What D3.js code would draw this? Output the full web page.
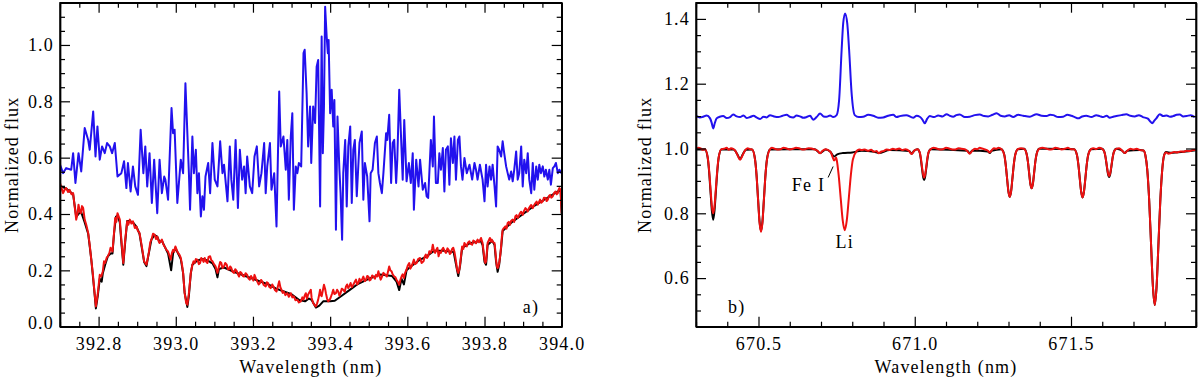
<!DOCTYPE html>
<html><head><meta charset="utf-8">
<script src="https://cdn.jsdelivr.net/npm/d3@7"></script>
<style>
html,body{margin:0;padding:0;background:#fff;}
svg{display:block;}
text{font-family:"Liberation Serif","Times New Roman",serif;fill:#000;}
</style></head>
<body><svg id="chart" width="1200" height="379"></svg>
<script>
// ---------------- DATA ----------------
// Panel a) Ca II K region: wavelength (nm), normalized flux
const blueA = [
[392.700,0.575],[392.708,0.545],[392.716,0.563],[392.729,0.557],[392.734,0.616],[392.740,0.510],[392.748,0.616],[392.755,0.551],
[392.764,0.705],[392.773,0.663],[392.777,0.628],[392.786,0.764],[392.792,0.604],[392.797,0.711],[392.803,0.593],[392.809,0.640],
[392.816,0.616],[392.822,0.652],[392.829,0.640],[392.835,0.616],[392.842,0.652],[392.849,0.533],[392.859,0.545],[392.866,0.587],
[392.872,0.492],[392.876,0.581],[392.883,0.480],[392.889,0.569],[392.895,0.498],[392.902,0.468],[392.909,0.699],[392.916,0.545],
[392.921,0.640],[392.926,0.498],[392.932,0.616],[392.938,0.439],[392.944,0.593],[392.952,0.403],[392.958,0.593],[392.964,0.474],
[392.970,0.533],[392.973,0.522],[392.980,0.451],[392.989,0.776],[392.993,0.687],[392.997,0.699],[393.004,0.439],[393.013,0.593],
[393.019,0.545],[393.025,0.864],[393.034,0.545],[393.037,0.415],[393.043,0.675],[393.047,0.545],[393.052,0.628],[393.056,0.474],
[393.060,0.545],[393.065,0.391],[393.069,0.463],[393.073,0.415],[393.077,0.533],[393.084,0.581],[393.089,0.474],[393.095,0.652],
[393.101,0.522],[393.108,0.498],[393.115,0.658],[393.121,0.545],[393.125,0.575],[393.134,0.445],[393.140,0.640],[393.144,0.522],
[393.149,0.451],[393.155,0.663],[393.161,0.421],[393.166,0.628],[393.172,0.522],[393.177,0.569],[393.181,0.474],[393.185,0.604],
[393.192,0.498],[393.198,0.474],[393.204,0.604],[393.210,0.640],[393.216,0.498],[393.222,0.545],[393.229,0.652],[393.233,0.474],
[393.237,0.569],[393.244,0.652],[393.248,0.486],[393.255,0.545],[393.261,0.356],[393.268,0.835],[393.272,0.640],[393.279,0.675],
[393.285,0.557],[393.289,0.663],[393.293,0.451],[393.298,0.675],[393.302,0.758],[393.306,0.415],[393.311,0.569],[393.315,0.545],
[393.319,0.581],[393.325,0.569],[393.331,0.971],[393.334,0.983],[393.339,0.829],[393.343,0.640],[393.348,0.782],[393.351,0.581],
[393.356,0.782],[393.361,0.723],[393.365,0.923],[393.369,0.947],[393.374,0.427],[393.378,1.030],[393.381,0.616],[393.384,0.782],
[393.387,1.136],[393.391,1.030],[393.394,0.971],[393.396,1.018],[393.400,0.758],[393.404,0.841],[393.408,0.711],[393.411,0.805],
[393.415,0.344],[393.419,0.746],[393.424,0.557],[393.427,0.474],[393.431,0.309],[393.434,0.545],[393.439,0.663],[393.443,0.427],
[393.447,0.640],[393.452,0.711],[393.456,0.439],[393.460,0.628],[393.464,0.663],[393.469,0.463],[393.476,0.652],[393.482,0.693],
[393.486,0.451],[393.490,0.581],[393.496,0.533],[393.502,0.374],[393.505,0.545],[393.510,0.557],[393.516,0.652],[393.521,0.675],
[393.525,0.545],[393.529,0.510],[393.534,0.474],[393.538,0.545],[393.545,0.687],[393.548,0.663],[393.553,0.752],[393.558,0.510],
[393.562,0.652],[393.566,0.663],[393.571,0.510],[393.574,0.593],[393.579,0.841],[393.584,0.663],[393.588,0.522],[393.592,0.734],
[393.598,0.516],[393.604,0.581],[393.609,0.510],[393.614,0.616],[393.617,0.415],[393.623,0.593],[393.629,0.498],[393.633,0.593],
[393.640,0.486],[393.646,0.510],[393.650,0.463],[393.654,0.457],[393.661,0.663],[393.666,0.569],[393.669,0.746],[393.674,0.510],
[393.679,0.510],[393.683,0.616],[393.687,0.557],[393.692,0.634],[393.696,0.480],[393.700,0.628],[393.705,0.640],[393.709,0.504],
[393.713,0.669],[393.718,0.581],[393.722,0.675],[393.726,0.522],[393.731,0.663],[393.735,0.675],[393.739,0.569],[393.743,0.522],
[393.748,0.599],[393.754,0.545],[393.761,0.575],[393.768,0.522],[393.774,0.581],[393.778,0.557],[393.782,0.522],[393.788,0.575],
[393.795,0.522],[393.800,0.445],[393.804,0.575],[393.808,0.498],[393.813,0.569],[393.817,0.522],[393.821,0.575],[393.826,0.498],
[393.830,0.427],[393.834,0.640],[393.838,0.628],[393.843,0.604],[393.847,0.658],[393.851,0.616],[393.856,0.569],[393.860,0.545],
[393.864,0.522],[393.869,0.551],[393.873,0.516],[393.877,0.557],[393.882,0.622],[393.886,0.522],[393.890,0.545],[393.895,0.640],
[393.899,0.498],[393.903,0.593],[393.908,0.545],[393.912,0.616],[393.916,0.522],[393.921,0.474],[393.925,0.581],[393.929,0.486],
[393.934,0.569],[393.938,0.522],[393.942,0.575],[393.946,0.545],[393.951,0.569],[393.955,0.533],[393.959,0.557],[393.964,0.522],
[393.968,0.557],[393.972,0.504],[393.977,0.563],[393.981,0.569],[393.985,0.581],[393.990,0.545],[393.994,0.557],[393.999,0.545]
];
const redA = [
[392.700,0.510],[392.704,0.492],[392.708,0.474],[392.712,0.486],[392.716,0.492],[392.721,0.478],[392.725,0.486],[392.730,0.470],
[392.734,0.474],[392.738,0.427],[392.742,0.380],[392.745,0.398],[392.748,0.433],[392.751,0.410],[392.754,0.403],[392.757,0.428],
[392.760,0.421],[392.764,0.380],[392.768,0.362],[392.773,0.333],[392.777,0.290],[392.781,0.238],[392.785,0.190],[392.788,0.143],
[392.793,0.072],[392.798,0.119],[392.803,0.184],[392.807,0.178],[392.811,0.197],[392.814,0.232],[392.817,0.226],[392.821,0.245],
[392.824,0.250],[392.828,0.262],[392.831,0.280],[392.836,0.267],[392.840,0.333],[392.843,0.386],[392.846,0.372],[392.849,0.403],
[392.852,0.392],[392.855,0.380],[392.859,0.309],[392.864,0.226],[392.869,0.309],[392.874,0.374],[392.877,0.362],[392.881,0.380],
[392.885,0.366],[392.889,0.374],[392.894,0.350],[392.898,0.356],[392.902,0.340],[392.906,0.333],[392.912,0.285],[392.918,0.232],
[392.924,0.220],[392.930,0.262],[392.934,0.300],[392.937,0.309],[392.941,0.330],[392.945,0.327],[392.949,0.311],[392.952,0.320],
[392.955,0.306],[392.958,0.297],[392.964,0.309],[392.968,0.292],[392.971,0.285],[392.976,0.272],[392.980,0.267],[392.984,0.250],
[392.987,0.238],[392.990,0.262],[392.993,0.273],[392.996,0.266],[392.999,0.285],[393.003,0.270],[393.006,0.262],[393.010,0.254],
[393.013,0.244],[393.016,0.222],[393.019,0.191],[393.023,0.119],[393.027,0.084],[393.030,0.078],[393.034,0.119],[393.039,0.191],
[393.043,0.220],[393.046,0.232],[393.049,0.226],[393.052,0.240],[393.056,0.238],[393.060,0.222],[393.063,0.226],[393.066,0.244],
[393.069,0.238],[393.072,0.230],[393.075,0.244],[393.078,0.232],[393.082,0.226],[393.085,0.248],[393.089,0.250],[393.092,0.236],
[393.095,0.232],[393.099,0.222],[393.103,0.214],[393.108,0.191],[393.112,0.214],[393.115,0.230],[393.118,0.226],[393.121,0.208],
[393.125,0.214],[393.128,0.226],[393.132,0.220],[393.135,0.204],[393.138,0.203],[393.141,0.214],[393.144,0.208],[393.147,0.195],
[393.151,0.191],[393.154,0.204],[393.158,0.197],[393.161,0.186],[393.164,0.178],[393.167,0.194],[393.170,0.191],[393.174,0.180],
[393.177,0.178],[393.181,0.190],[393.185,0.184],[393.188,0.172],[393.192,0.167],[393.195,0.180],[393.198,0.173],[393.201,0.164],
[393.204,0.184],[393.208,0.170],[393.211,0.161],[393.215,0.150],[393.218,0.155],[393.221,0.166],[393.224,0.161],[393.228,0.148],
[393.233,0.143],[393.236,0.158],[393.239,0.155],[393.242,0.142],[393.246,0.137],[393.250,0.150],[393.253,0.143],[393.257,0.130],
[393.261,0.125],[393.264,0.140],[393.268,0.161],[393.271,0.140],[393.274,0.131],[393.277,0.120],[393.280,0.125],[393.284,0.112],
[393.289,0.119],[393.293,0.106],[393.298,0.119],[393.302,0.104],[393.306,0.108],[393.310,0.094],[393.315,0.096],[393.319,0.086],
[393.324,0.090],[393.328,0.104],[393.331,0.096],[393.334,0.110],[393.337,0.119],[393.340,0.100],[393.343,0.114],[393.347,0.124],
[393.350,0.131],[393.352,0.102],[393.356,0.084],[393.360,0.076],[393.363,0.072],[393.366,0.082],[393.369,0.096],[393.372,0.116],
[393.374,0.131],[393.376,0.112],[393.378,0.108],[393.381,0.128],[393.384,0.149],[393.387,0.134],[393.389,0.119],[393.392,0.100],
[393.395,0.090],[393.398,0.094],[393.401,0.102],[393.405,0.118],[393.408,0.131],[393.411,0.116],[393.415,0.119],[393.418,0.131],
[393.421,0.125],[393.424,0.110],[393.427,0.119],[393.430,0.135],[393.434,0.131],[393.438,0.124],[393.441,0.143],[393.444,0.150],
[393.447,0.137],[393.450,0.145],[393.453,0.155],[393.456,0.140],[393.460,0.149],[393.464,0.160],[393.467,0.167],[393.470,0.150],
[393.473,0.155],[393.476,0.170],[393.479,0.161],[393.483,0.168],[393.486,0.178],[393.490,0.162],[393.493,0.167],[393.496,0.180],
[393.499,0.178],[393.502,0.164],[393.505,0.167],[393.509,0.182],[393.512,0.178],[393.516,0.170],[393.519,0.184],[393.522,0.178],
[393.525,0.197],[393.528,0.180],[393.531,0.167],[393.535,0.180],[393.538,0.191],[393.542,0.186],[393.547,0.178],[393.550,0.196],
[393.553,0.214],[393.556,0.200],[393.559,0.197],[393.562,0.186],[393.566,0.178],[393.569,0.176],[393.572,0.167],[393.575,0.160],
[393.579,0.149],[393.582,0.166],[393.585,0.178],[393.588,0.186],[393.591,0.173],[393.594,0.190],[393.598,0.203],[393.601,0.216],
[393.605,0.226],[393.608,0.206],[393.611,0.214],[393.614,0.226],[393.617,0.238],[393.620,0.222],[393.624,0.226],[393.628,0.240],
[393.633,0.244],[393.637,0.226],[393.642,0.232],[393.645,0.248],[393.648,0.256],[393.651,0.244],[393.654,0.250],[393.657,0.268],
[393.661,0.262],[393.664,0.276],[393.666,0.291],[393.669,0.270],[393.672,0.262],[393.675,0.272],[393.678,0.280],[393.681,0.250],
[393.684,0.266],[393.687,0.262],[393.690,0.274],[393.693,0.280],[393.697,0.268],[393.700,0.262],[393.704,0.278],[393.707,0.273],
[393.710,0.258],[393.713,0.262],[393.716,0.276],[393.719,0.280],[393.722,0.266],[393.724,0.250],[393.727,0.224],[393.729,0.203],
[393.732,0.191],[393.735,0.204],[393.737,0.226],[393.740,0.262],[393.742,0.285],[393.745,0.276],[393.748,0.297],[393.751,0.290],
[393.754,0.285],[393.757,0.298],[393.761,0.303],[393.764,0.294],[393.768,0.291],[393.771,0.306],[393.774,0.303],[393.778,0.296],
[393.782,0.309],[393.786,0.300],[393.791,0.315],[393.793,0.306],[393.795,0.297],[393.798,0.262],[393.800,0.238],[393.802,0.226],
[393.804,0.232],[393.806,0.262],[393.808,0.297],[393.811,0.306],[393.814,0.315],[393.817,0.302],[393.819,0.309],[393.822,0.300],
[393.826,0.297],[393.828,0.270],[393.830,0.238],[393.832,0.214],[393.834,0.208],[393.836,0.215],[393.838,0.226],[393.841,0.256],
[393.843,0.285],[393.845,0.320],[393.847,0.344],[393.850,0.350],[393.854,0.356],[393.857,0.348],[393.860,0.368],[393.863,0.372],
[393.866,0.362],[393.869,0.376],[393.873,0.380],[393.877,0.372],[393.880,0.392],[393.883,0.396],[393.886,0.386],[393.889,0.394],
[393.892,0.403],[393.895,0.408],[393.899,0.397],[393.902,0.410],[393.906,0.421],[393.909,0.416],[393.912,0.409],[393.915,0.420],
[393.918,0.427],[393.921,0.432],[393.925,0.421],[393.928,0.430],[393.932,0.439],[393.935,0.444],[393.938,0.433],[393.941,0.442],
[393.944,0.451],[393.947,0.440],[393.951,0.445],[393.954,0.458],[393.958,0.457],[393.961,0.446],[393.964,0.451],[393.967,0.464],
[393.970,0.468],[393.973,0.458],[393.977,0.463],[393.980,0.474],[393.984,0.480],[393.987,0.470],[393.990,0.474],[393.992,0.486],
[393.994,0.492],[393.997,0.486],[394.000,0.403]
];
const blackA = [
[392.700,0.500],[392.716,0.490],[392.734,0.470],[392.742,0.390],[392.754,0.410],[392.764,0.370],[392.773,0.330],[392.781,0.240],
[392.788,0.140],[392.793,0.065],[392.798,0.110],[392.803,0.170],[392.808,0.160],[392.811,0.190],[392.817,0.220],[392.824,0.250],
[392.831,0.260],[392.836,0.260],[392.840,0.330],[392.845,0.390],[392.849,0.395],[392.855,0.370],[392.859,0.300],[392.864,0.220],
[392.869,0.300],[392.874,0.375],[392.881,0.375],[392.889,0.370],[392.898,0.355],[392.906,0.330],[392.912,0.280],[392.918,0.230],
[392.924,0.215],[392.930,0.260],[392.937,0.310],[392.945,0.325],[392.952,0.320],[392.958,0.300],[392.964,0.305],[392.971,0.285],
[392.980,0.260],[392.988,0.200],[392.993,0.260],[392.999,0.280],[393.006,0.260],[393.013,0.240],[393.019,0.190],[393.023,0.120],
[393.030,0.070],[393.034,0.110],[393.039,0.190],[393.043,0.220],[393.056,0.235],[393.069,0.240],[393.082,0.235],[393.095,0.225],
[393.103,0.205],[393.108,0.175],[393.112,0.205],[393.125,0.210],[393.150,0.195],[393.180,0.180],[393.210,0.165],[393.240,0.150],
[393.260,0.135],[393.280,0.125],[393.300,0.115],[393.320,0.095],[393.335,0.090],[393.345,0.100],[393.352,0.095],[393.363,0.068],
[393.372,0.075],[393.382,0.090],[393.400,0.090],[393.412,0.092],[393.430,0.110],[393.450,0.130],[393.470,0.150],[393.500,0.170],
[393.530,0.185],[393.560,0.180],[393.572,0.160],[393.579,0.130],[393.585,0.170],[393.591,0.150],[393.598,0.200],[393.610,0.215],
[393.630,0.235],[393.650,0.250],[393.670,0.270],[393.690,0.270],[393.720,0.265],[393.729,0.200],[393.732,0.180],[393.737,0.220],
[393.742,0.280],[393.760,0.295],[393.790,0.305],[393.795,0.290],[393.800,0.230],[393.804,0.220],[393.808,0.290],[393.820,0.305],
[393.826,0.290],[393.830,0.230],[393.834,0.195],[393.838,0.220],[393.843,0.280],[393.847,0.340],[393.870,0.370],[393.900,0.400],
[393.930,0.430],[393.960,0.455],[393.990,0.480],[393.997,0.485],[394.000,0.400]
];

// Panel b) Li I 670.8 nm region
const blueB = [
[670.302,1.100],[670.312,1.096],[670.323,1.098],[670.334,1.102],[670.345,1.093],[670.350,1.080],[670.355,1.062],[670.360,1.078],
[670.366,1.093],[670.376,1.098],[670.387,1.100],[670.398,1.094],[670.409,1.097],[670.419,1.105],[670.430,1.099],[670.441,1.097],
[670.452,1.102],[670.462,1.094],[670.473,1.097],[670.484,1.101],[670.495,1.095],[670.505,1.091],[670.516,1.098],[670.526,1.096],
[670.537,1.103],[670.550,1.099],[670.563,1.097],[670.577,1.101],[670.590,1.104],[670.600,1.098],[670.611,1.096],[670.622,1.102],
[670.633,1.099],[670.644,1.095],[670.654,1.097],[670.665,1.101],[670.675,1.089],[670.686,1.097],[670.697,1.108],[670.708,1.099],
[670.718,1.098],[670.729,1.102],[670.739,1.097],[670.750,1.103],[670.758,1.150],[670.766,1.304],[670.771,1.386],[670.777,1.417],
[670.784,1.386],[670.790,1.304],[670.798,1.170],[670.808,1.103],[670.821,1.097],[670.835,1.098],[670.851,1.104],[670.867,1.101],
[670.883,1.095],[670.899,1.096],[670.915,1.101],[670.931,1.104],[670.942,1.097],[670.952,1.100],[670.973,1.103],[670.995,1.095],
[671.006,1.101],[671.016,1.098],[671.024,1.090],[671.032,1.078],[671.040,1.092],[671.048,1.100],[671.062,1.097],[671.075,1.102],
[671.089,1.099],[671.102,1.106],[671.112,1.101],[671.123,1.098],[671.133,1.103],[671.144,1.105],[671.160,1.097],[671.176,1.098],
[671.192,1.103],[671.208,1.105],[671.222,1.100],[671.235,1.099],[671.249,1.104],[671.262,1.109],[671.275,1.101],[671.288,1.099],
[671.302,1.103],[671.315,1.097],[671.331,1.104],[671.347,1.101],[671.368,1.098],[671.390,1.106],[671.406,1.101],[671.422,1.100],
[671.433,1.104],[671.443,1.103],[671.459,1.097],[671.475,1.098],[671.488,1.104],[671.501,1.101],[671.512,1.097],[671.523,1.093],
[671.536,1.099],[671.549,1.101],[671.565,1.097],[671.581,1.103],[671.592,1.100],[671.603,1.097],[671.614,1.101],[671.624,1.095],
[671.635,1.098],[671.645,1.100],[671.661,1.103],[671.677,1.106],[671.690,1.101],[671.704,1.099],[671.717,1.103],[671.730,1.097],
[671.746,1.092],[671.753,1.084],[671.760,1.078],[671.766,1.085],[671.773,1.093],[671.784,1.106],[671.795,1.100],[671.806,1.102],
[671.817,1.098],[671.827,1.100],[671.838,1.104],[671.848,1.105],[671.859,1.099],[671.870,1.100],[671.883,1.103],[671.896,1.097]
];
const redB = [
[670.300,0.998],[670.308,1.002],[670.315,1.000],[670.322,0.996],[670.3286,0.998],[670.3374,0.973],[670.3418,0.935],[670.3462,0.879],
[670.3506,0.824],[670.355,0.800],[670.3594,0.824],[670.3638,0.879],[670.3682,0.935],[670.3726,0.973],[670.3814,0.998],[670.390,0.999],
[670.398,1.002],[670.405,0.996],[670.412,1.001],[670.420,0.998],[670.425,0.994],[670.433,0.979],[670.441,0.965],[670.449,0.979],
[670.457,0.994],[670.465,1.001],[670.472,0.998],[670.4795,0.997],[670.489,0.965],[670.49375,0.917],[670.4985,0.844],[670.50325,0.773],
[670.508,0.743],[670.51275,0.773],[670.5175,0.844],[670.52225,0.917],[670.527,0.965],[670.5365,0.997],[670.543,1.002],[670.550,1.000],
[670.560,0.997],[670.570,0.998],[670.580,1.002],[670.590,1.000],[670.600,0.997],[670.610,0.999],[670.620,1.002],[670.630,1.001],
[670.640,0.997],[670.650,0.998],[670.660,1.001],[670.670,1.000],[670.680,0.997],[670.690,0.992],[670.697,0.985],[670.704,0.992],
[670.715,0.998],[670.725,0.994],[670.733,0.985],[670.737,0.974],[670.742,0.963],[670.745,0.966],[670.748,0.972],[670.750,0.966],
[670.7565,0.918],[670.763,0.847],[670.7695,0.778],[670.776,0.748],[670.7825,0.778],[670.789,0.847],[670.7955,0.918],[670.802,0.966],
[670.815,0.993],[670.822,0.997],[670.830,0.995],[670.840,0.997],[670.850,0.993],[670.860,0.996],[670.870,0.990],[670.878,0.992],
[670.885,0.985],[670.892,0.990],[670.900,0.992],[670.910,0.997],[670.920,0.995],[670.930,0.999],[670.940,0.997],[670.950,1.000],
[670.960,0.995],[670.970,0.998],[670.982,0.992],[670.990,0.983],[670.998,0.993],[671.009,0.998],[671.016,0.988],[671.0195,0.971],
[671.023,0.945],[671.0265,0.921],[671.030,0.910],[671.0335,0.921],[671.037,0.945],[671.0405,0.971],[671.044,0.988],[671.051,0.998],
[671.060,1.002],[671.070,1.000],[671.080,0.997],[671.090,0.998],[671.100,1.002],[671.110,1.000],[671.120,0.997],[671.130,0.997],
[671.140,1.001],[671.150,0.999],[671.160,0.998],[671.168,0.992],[671.176,0.984],[671.184,0.993],[671.192,0.999],[671.200,0.998],
[671.208,1.002],[671.215,1.000],[671.225,0.997],[671.234,0.993],[671.240,0.988],[671.246,0.994],[671.253,1.001],[671.260,0.999],
[671.268,1.002],[671.2779,0.998],[671.2866,0.980],[671.29095,0.951],[671.2953,0.909],[671.29965,0.868],[671.304,0.851],[671.30835,0.868],
[671.3127,0.909],[671.31705,0.951],[671.3214,0.980],[671.3301,0.998],[671.340,1.001],[671.350,0.999],[671.358,0.983],[671.362,0.960],
[671.366,0.925],[671.370,0.891],[671.374,0.877],[671.378,0.891],[671.382,0.925],[671.386,0.960],[671.390,0.983],[671.398,0.999],
[671.409,1.002],[671.420,1.000],[671.430,0.997],[671.440,0.998],[671.450,1.002],[671.460,1.000],[671.470,0.997],[671.480,0.999],
[671.490,1.002],[671.500,0.998],[671.510,0.998],[671.519,0.980],[671.5235,0.951],[671.528,0.908],[671.5325,0.867],[671.537,0.849],
[671.5415,0.867],[671.546,0.908],[671.5505,0.951],[671.555,0.980],[671.564,0.998],[671.572,1.001],[671.580,0.998],[671.590,1.002],
[671.5995,0.999],[671.607,0.989],[671.61075,0.972],[671.6145,0.948],[671.61825,0.925],[671.622,0.915],[671.62575,0.925],[671.6295,0.948],
[671.63325,0.972],[671.637,0.989],[671.6445,0.999],[671.654,1.001],[671.664,0.993],[671.672,0.986],[671.680,0.993],[671.690,0.999],
[671.700,0.997],[671.710,0.999],[671.720,0.995],[671.732,0.994],[671.738,0.979],[671.744,0.935],[671.750,0.844],[671.756,0.709],
[671.762,0.576],[671.768,0.517],[671.774,0.576],[671.780,0.709],[671.786,0.844],[671.792,0.935],[671.798,0.979],[671.804,0.988],
[671.812,0.984],[671.820,0.986],[671.830,0.989],[671.840,0.988],[671.850,0.991],[671.860,0.990],[671.870,0.993],[671.880,0.992],
[671.890,0.995],[671.900,0.995]
];
const blackB = [
[670.300,0.997],[670.3286,0.997],[670.3374,0.972],[670.3418,0.930],[670.3462,0.870],[670.3506,0.810],[670.355,0.780],[670.3594,0.810],
[670.3638,0.870],[670.3682,0.930],[670.3726,0.972],[670.3814,0.997],[670.420,0.997],[670.433,0.981],[670.441,0.967],[670.449,0.981],
[670.460,0.996],[670.4795,0.997],[670.489,0.966],[670.49375,0.918],[670.4985,0.846],[670.50325,0.776],[670.508,0.746],[670.51275,0.776],
[670.5175,0.846],[670.52225,0.918],[670.527,0.966],[670.5365,0.997],[670.600,0.998],[670.680,0.998],[670.697,0.986],[670.715,0.997],
[670.730,0.990],[670.742,0.975],[670.752,0.982],[670.770,0.986],[670.800,0.988],[670.830,0.993],[670.870,0.990],[670.885,0.986],
[670.920,0.995],[670.982,0.992],[670.990,0.984],[670.998,0.993],[671.009,0.998],[671.016,0.987],[671.0195,0.967],[671.023,0.940],
[671.0265,0.914],[671.030,0.903],[671.0335,0.914],[671.037,0.940],[671.0405,0.967],[671.044,0.987],[671.051,0.998],[671.168,0.993],
[671.176,0.985],[671.184,0.994],[671.234,0.991],[671.240,0.986],[671.246,0.993],[671.2779,0.998],[671.2866,0.980],[671.29095,0.951],
[671.2953,0.909],[671.29965,0.868],[671.304,0.851],[671.30835,0.868],[671.3127,0.909],[671.31705,0.951],[671.3214,0.980],[671.3301,0.998],
[671.350,0.999],[671.358,0.983],[671.362,0.960],[671.366,0.925],[671.370,0.891],[671.374,0.877],[671.378,0.891],[671.382,0.925],
[671.386,0.960],[671.390,0.983],[671.398,0.999],[671.510,0.998],[671.519,0.980],[671.5235,0.951],[671.528,0.908],[671.5325,0.867],
[671.537,0.849],[671.5415,0.867],[671.546,0.908],[671.5505,0.951],[671.555,0.980],[671.564,0.998],[671.5995,0.999],[671.607,0.989],
[671.61075,0.972],[671.6145,0.946],[671.61825,0.922],[671.622,0.912],[671.62575,0.922],[671.6295,0.946],[671.63325,0.972],[671.637,0.989],
[671.6445,0.999],[671.664,0.993],[671.672,0.986],[671.680,0.993],[671.720,0.995],[671.732,0.994],[671.738,0.979],[671.744,0.935],
[671.750,0.844],[671.756,0.709],[671.762,0.576],[671.768,0.517],[671.774,0.576],[671.780,0.709],[671.786,0.844],[671.792,0.935],
[671.798,0.979],[671.804,0.989],[671.820,0.987],[671.860,0.990],[671.900,0.995]
];

// Tick labels
const xTicksA = [392.8, 393.0, 393.2, 393.4, 393.6, 393.8, 394.0];
const yTicksA = [0.0, 0.2, 0.4, 0.6, 0.8, 1.0];
const xTicksB = [670.5, 671.0, 671.5];
const yTicksB = [0.6, 0.8, 1.0, 1.2, 1.4];

// ---------------- DRAW ----------------
const svg = d3.select("#chart");
const BLUE = "#2211ee", RED = "#ee1111", BLACK = "#000";
const FONT = "Liberation Serif";
const FS = 18;

function panel(opts){
  const {x, y, xMajor, xMinor, yMajor, yMinor, series, curve, id} = opts;
  const [L, R] = x.range(), [B, T] = y.range();
  const g = svg.append("g");
  g.append("clipPath").attr("id", id).append("rect")
    .attr("x", L).attr("y", T).attr("width", R - L).attr("height", B - T);
  const plot = g.append("g").attr("clip-path", `url(#${id})`);
  series.forEach(s => {
    plot.append("path").datum(s.data)
      .attr("fill", "none").attr("stroke", s.color).attr("stroke-width", s.width)
      .attr("stroke-linejoin", "round")
      .attr("d", d3.line().x(d => x(d[0])).y(d => y(d[1])).curve(curve));
  });
  const fmt = d3.format(".1f");
  const styleAxis = sel => {
    sel.selectAll("path.domain").attr("stroke", "#000").attr("stroke-width", 1.4);
    sel.selectAll(".tick line").attr("stroke", "#000").attr("stroke-width", 1.2);
    sel.selectAll("text").attr("font-family", FONT).attr("font-size", FS).attr("fill", "#000").attr("letter-spacing", "1.2px");
  };
  g.append("g").attr("transform", `translate(0,${B})`)
    .call(d3.axisBottom(x).tickValues(xMajor).tickFormat(fmt).tickSize(-10).tickSizeOuter(0).tickPadding(11)).call(styleAxis);
  g.append("g").attr("transform", `translate(0,${B})`)
    .call(d3.axisBottom(x).tickValues(xMinor).tickFormat("").tickSize(-5).tickSizeOuter(0)).call(styleAxis);
  g.append("g").attr("transform", `translate(0,${T})`)
    .call(d3.axisTop(x).tickValues(xMajor).tickFormat("").tickSize(-10).tickSizeOuter(0)).call(styleAxis);
  g.append("g").attr("transform", `translate(0,${T})`)
    .call(d3.axisTop(x).tickValues(xMinor).tickFormat("").tickSize(-5).tickSizeOuter(0)).call(styleAxis);
  const yl = g.append("g").attr("transform", `translate(${L},0)`)
    .call(d3.axisLeft(y).tickValues(yMajor).tickFormat(fmt).tickSize(-10).tickSizeOuter(0).tickPadding(6)).call(styleAxis);
  g.append("g").attr("transform", `translate(${L},0)`)
    .call(d3.axisLeft(y).tickValues(yMinor).tickFormat("").tickSize(-5).tickSizeOuter(0)).call(styleAxis);
  g.append("g").attr("transform", `translate(${R},0)`)
    .call(d3.axisRight(y).tickValues(yMajor).tickFormat("").tickSize(-10).tickSizeOuter(0)).call(styleAxis);
  g.append("g").attr("transform", `translate(${R},0)`)
    .call(d3.axisRight(y).tickValues(yMinor).tickFormat("").tickSize(-5).tickSizeOuter(0)).call(styleAxis);
  g.append("rect").attr("x", L).attr("y", T).attr("width", R - L).attr("height", B - T)
    .attr("fill", "none").attr("stroke", "#000").attr("stroke-width", 1.4);
  return {g, yl, L, R, T, B};
}

function rangeTicks(a, b, step, major){
  const out = [];
  const n = Math.round((b - a) / step);
  for (let i = 0; i <= n; i++){
    const v = +(a + i * step).toFixed(4);
    if (!major.some(m => Math.abs(m - v) < 1e-6)) out.push(v);
  }
  return out;
}

// Panel a
const xA = d3.scaleLinear([392.7, 394.0], [60, 561.7]);
const yA = d3.scaleLinear([0, 1.15], [326.7, 2.7]);
const pA = panel({
  id: "clipA", x: xA, y: yA,
  xMajor: xTicksA, xMinor: rangeTicks(392.7, 394.0, 0.05, xTicksA),
  yMajor: yTicksA, yMinor: rangeTicks(0, 1.15, 0.05, yTicksA),
  series: [{data: blueA, color: BLUE, width: 2}, {data: blackA, color: BLACK, width: 2}, {data: redA, color: RED, width: 2}],
  curve: d3.curveLinear
});
pA.yl.selectAll(".tick").filter(d => d === 0).select("text").attr("dy", "0.1em");

// Panel b
const xB = d3.scaleLinear([670.3, 671.9], [696, 1196]);
const yB = d3.scaleLinear([0.45, 1.45], [326.7, 2.7]);
const pB = panel({
  id: "clipB", x: xB, y: yB,
  xMajor: xTicksB, xMinor: rangeTicks(670.3, 671.9, 0.1, xTicksB),
  yMajor: yTicksB, yMinor: rangeTicks(0.45, 1.45, 0.05, yTicksB),
  series: [{data: blueB, color: BLUE, width: 2}, {data: blackB, color: BLACK, width: 2}, {data: redB, color: RED, width: 2}],
  curve: d3.curveMonotoneX
});

// Axis titles
const txt = s => s.attr("font-family", FONT).attr("font-size", FS).attr("letter-spacing", "1.2px");
[pA, pB].forEach(p => {
  svg.append("text").attr("x", (p.L + p.R) / 2).attr("y", 373)
    .attr("text-anchor", "middle").call(txt).text("Wavelength (nm)");
});
svg.append("text").attr("transform", `translate(18,${(pA.T + pA.B) / 2}) rotate(-90)`)
  .attr("text-anchor", "middle").call(txt).text("Normalized flux");
svg.append("text").attr("transform", `translate(651,${(pB.T + pB.B) / 2}) rotate(-90)`)
  .attr("text-anchor", "middle").call(txt).text("Normalized flux");

// Panel labels
svg.append("text").attr("x", pA.R - 39).attr("y", pA.B - 14).call(txt).text("a)");
svg.append("text").attr("x", pB.L + 32).attr("y", pB.B - 14).call(txt).text("b)");

// Line annotations
const feW = 670.742, feF = 0.963, liW = 670.776, liF = 0.748;
svg.append("line")
  .attr("x1", xB(feW) - 6).attr("y1", yB(feF) + 17)
  .attr("x2", xB(feW) - 1).attr("y2", yB(feF) + 6)
  .attr("stroke", "#000").attr("stroke-width", 1);
svg.append("text").attr("x", xB(feW) - 9).attr("y", yB(feF) + 31)
  .attr("text-anchor", "end").call(txt).text("Fe I");
svg.append("text").attr("x", xB(liW)).attr("y", yB(liF) + 18)
  .attr("text-anchor", "middle").call(txt).text("Li");
</script></body></html>
